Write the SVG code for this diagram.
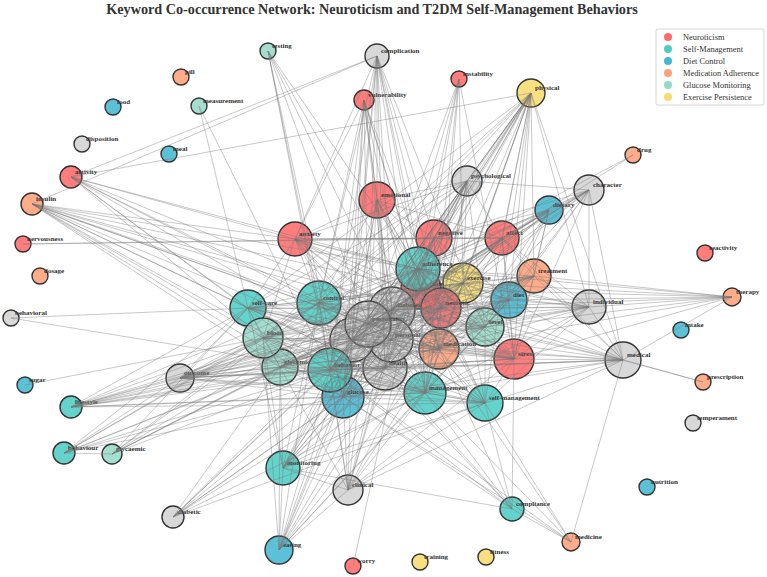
<svg xmlns="http://www.w3.org/2000/svg" width="767" height="577" viewBox="0 0 767 577">
<style>
.nd circle{stroke:#333;stroke-width:1.4;fill-opacity:.88}
.nd text{font-family:"Liberation Serif",serif;font-weight:bold;font-size:7px;fill:#333}
.r{fill:#FF6B6B}.t{fill:#4ECDC4}.b{fill:#45B7D1}.o{fill:#FFA07A}.g{fill:#98D8C8}.y{fill:#F7DC6F}.x{fill:#D3D3D3}
#edges path{fill:none;stroke:#777;stroke-opacity:.5;stroke-width:.8}
.lg text{font-family:"Liberation Serif",serif;font-size:8.4px;fill:#333}
</style>
<rect width="767" height="577" fill="#fff"/>
<text x="372" y="14" text-anchor="middle" style="font-family:'Liberation Serif',serif;font-weight:bold;font-size:14.2px;fill:#333">Keyword Co-occurrence Network: Neuroticism and T2DM Self-Management Behaviors</text>
<g id="nodes">
<g id="n-pill" class="nd"><circle class="o" cx="181" cy="77" r="8"/><text x="185" y="74">pill</text></g>
<g id="n-food" class="nd"><circle class="b" cx="113" cy="107" r="8"/><text x="117" y="104">food</text></g>
<g id="n-measurement" class="nd"><circle class="g" cx="199" cy="106" r="8"/><text x="203" y="103">measurement</text></g>
<g id="n-disposition" class="nd"><circle class="x" cx="82" cy="144" r="8"/><text x="86" y="141">disposition</text></g>
<g id="n-meal" class="nd"><circle class="b" cx="169" cy="154" r="8"/><text x="173" y="151">meal</text></g>
<g id="n-activity" class="nd"><circle class="r" cx="71" cy="177" r="11"/><text x="75" y="174">activity</text></g>
<g id="n-insulin" class="nd"><circle class="o" cx="32" cy="204" r="11"/><text x="36" y="201">insulin</text></g>
<g id="n-nervousness" class="nd"><circle class="r" cx="23" cy="244" r="8"/><text x="27" y="241">nervousness</text></g>
<g id="n-dosage" class="nd"><circle class="o" cx="40" cy="276" r="8"/><text x="44" y="273">dosage</text></g>
<g id="n-behavioral" class="nd"><circle class="x" cx="11" cy="318" r="8"/><text x="15" y="315">behavioral</text></g>
<g id="n-sugar" class="nd"><circle class="b" cx="25" cy="385" r="8"/><text x="29" y="382">sugar</text></g>
<g id="n-lifestyle" class="nd"><circle class="t" cx="71" cy="407" r="11"/><text x="75" y="404">lifestyle</text></g>
<g id="n-behaviour" class="nd"><circle class="t" cx="64" cy="453" r="11"/><text x="68" y="450">behaviour</text></g>
<g id="n-glycaemic" class="nd"><circle class="g" cx="112" cy="454" r="10"/><text x="116" y="451">glycaemic</text></g>
<g id="n-diabetic" class="nd"><circle class="x" cx="173" cy="517" r="11"/><text x="177" y="514">diabetic</text></g>
<g id="n-outcome" class="nd"><circle class="x" cx="180" cy="378" r="14"/><text x="184" y="375">outcome</text></g>
<g id="n-testing" class="nd"><circle class="g" cx="268" cy="51" r="8"/><text x="272" y="48">testing</text></g>
<g id="n-complication" class="nd"><circle class="x" cx="377" cy="56" r="12"/><text x="381" y="53">complication</text></g>
<g id="n-instability" class="nd"><circle class="r" cx="459" cy="79" r="8"/><text x="463" y="76">instability</text></g>
<g id="n-vulnerability" class="nd"><circle class="r" cx="364" cy="100" r="10"/><text x="368" y="97">vulnerability</text></g>
<g id="n-physical" class="nd"><circle class="y" cx="531" cy="93" r="14"/><text x="535" y="90">physical</text></g>
<g id="n-drug" class="nd"><circle class="o" cx="633" cy="155" r="8"/><text x="637" y="152">drug</text></g>
<g id="n-psychological" class="nd"><circle class="x" cx="467" cy="181" r="15"/><text x="471" y="178">psychological</text></g>
<g id="n-character" class="nd"><circle class="x" cx="589" cy="190" r="15"/><text x="593" y="187">character</text></g>
<g id="n-dietary" class="nd"><circle class="b" cx="549" cy="210" r="14"/><text x="553" y="207">dietary</text></g>
<g id="n-reactivity" class="nd"><circle class="r" cx="705" cy="253" r="8"/><text x="709" y="250">reactivity</text></g>
<g id="n-therapy" class="nd"><circle class="o" cx="732" cy="297" r="9"/><text x="736" y="294">therapy</text></g>
<g id="n-intake" class="nd"><circle class="b" cx="681" cy="330" r="8"/><text x="685" y="327">intake</text></g>
<g id="n-prescription" class="nd"><circle class="o" cx="703" cy="382" r="8"/><text x="707" y="379">prescription</text></g>
<g id="n-temperament" class="nd"><circle class="x" cx="693" cy="423" r="8"/><text x="697" y="420">temperament</text></g>
<g id="n-nutrition" class="nd"><circle class="b" cx="647" cy="487" r="8"/><text x="651" y="484">nutrition</text></g>
<g id="n-compliance" class="nd"><circle class="t" cx="512" cy="509" r="12"/><text x="516" y="506">compliance</text></g>
<g id="n-medicine" class="nd"><circle class="o" cx="571" cy="542" r="9"/><text x="575" y="539">medicine</text></g>
<g id="n-fitness" class="nd"><circle class="y" cx="486" cy="557" r="8"/><text x="490" y="554">fitness</text></g>
<g id="n-training" class="nd"><circle class="y" cx="420" cy="562" r="8"/><text x="424" y="559">training</text></g>
<g id="n-worry" class="nd"><circle class="r" cx="353" cy="566" r="8"/><text x="357" y="563">worry</text></g>
<g id="n-eating" class="nd"><circle class="b" cx="279" cy="550" r="14"/><text x="283" y="547">eating</text></g>
<g id="n-clinical" class="nd"><circle class="x" cx="348" cy="490" r="15"/><text x="352" y="487">clinical</text></g>
<g id="n-monitoring" class="nd"><circle class="t" cx="283" cy="468" r="17"/><text x="287" y="465">monitoring</text></g>
<g id="n-medical" class="nd"><circle class="x" cx="623" cy="360" r="18"/><text x="627" y="357">medical</text></g>
<g id="n-individual" class="nd"><circle class="x" cx="589" cy="307" r="17"/><text x="593" y="304">individual</text></g>
<g id="n-emotional" class="nd"><circle class="r" cx="377" cy="200" r="18"/><text x="381" y="197">emotional</text></g>
<g id="n-anxiety" class="nd"><circle class="r" cx="295" cy="239" r="17"/><text x="299" y="236">anxiety</text></g>
<g id="n-negative" class="nd"><circle class="r" cx="434" cy="238" r="18"/><text x="438" y="235">negative</text></g>
<g id="n-affect" class="nd"><circle class="r" cx="502" cy="238" r="17"/><text x="506" y="235">affect</text></g>
<g id="n-neuroticism" class="nd"><circle class="r" cx="421" cy="289" r="20"/><text x="409" y="286">neuroticism</text></g>
<g id="n-diabetes" class="nd"><circle class="x" cx="392" cy="310" r="23"/><text x="396" y="307">diabetes</text></g>
<g id="n-health" class="nd"><circle class="x" cx="385" cy="368" r="22"/><text x="389" y="365">health</text></g>
<g id="n-personal" class="nd"><circle class="x" cx="391" cy="340" r="22"/><text x="395" y="337">personal</text></g>
<g id="n-trait" class="nd"><circle class="x" cx="352" cy="340" r="22"/><text x="356" y="337">trait</text></g>
<g id="n-personality" class="nd"><circle class="x" cx="368" cy="324" r="23"/><text x="372" y="321">personality</text></g>
<g id="n-glucose" class="nd"><circle class="b" cx="343" cy="397" r="21"/><text x="347" y="394">glucose</text></g>
<g id="n-glycemic" class="nd"><circle class="g" cx="280" cy="367" r="18"/><text x="284" y="364">glycemic</text></g>
<g id="n-self-care" class="nd"><circle class="t" cx="248" cy="308" r="18"/><text x="252" y="305">self-care</text></g>
<g id="n-blood" class="nd"><circle class="g" cx="263" cy="338" r="20"/><text x="267" y="335">blood</text></g>
<g id="n-behavior" class="nd"><circle class="t" cx="330" cy="370" r="22"/><text x="334" y="367">behavior</text></g>
<g id="n-control" class="nd"><circle class="t" cx="319" cy="303" r="22"/><text x="323" y="300">control</text></g>
<g id="n-management" class="nd"><circle class="t" cx="425" cy="393" r="21"/><text x="429" y="390">management</text></g>
<g id="n-self-management" class="nd"><circle class="t" cx="485" cy="403" r="18"/><text x="489" y="400">self-management</text></g>
<g id="n-stress" class="nd"><circle class="r" cx="514" cy="359" r="20"/><text x="518" y="356">stress</text></g>
<g id="n-medication" class="nd"><circle class="o" cx="439" cy="349" r="20"/><text x="443" y="346">medication</text></g>
<g id="n-level" class="nd"><circle class="g" cx="485" cy="327" r="19"/><text x="489" y="324">level</text></g>
<g id="n-adherence" class="nd"><circle class="t" cx="418" cy="269" r="22"/><text x="422" y="266">adherence</text></g>
<g id="n-exercise" class="nd"><circle class="y" cx="463" cy="283" r="20"/><text x="467" y="280">exercise</text></g>
<g id="n-neurotic" class="nd"><circle class="r" cx="441" cy="308" r="20"/><text x="445" y="305">neurotic</text></g>
<g id="n-treatment" class="nd"><circle class="o" cx="534" cy="276" r="17"/><text x="538" y="273">treatment</text></g>
<g id="n-diet" class="nd"><circle class="b" cx="509" cy="300" r="18"/><text x="513" y="297">diet</text></g>
</g>
<g id="edges">
<path d="M392 310L368 324M392 310L352 340M392 310L391 340M392 310L385 368M392 310L421 289M392 310L441 308M392 310L418 269M392 310L463 283M392 310L439 349M368 324L352 340M368 324L391 340M368 324L385 368M368 324L421 289M368 324L441 308M368 324L418 269M368 324L463 283M368 324L439 349M352 340L391 340M352 340L385 368M352 340L421 289M352 340L441 308M352 340L418 269M352 340L463 283M352 340L439 349M391 340L385 368M391 340L421 289M391 340L441 308M391 340L418 269M391 340L463 283M391 340L439 349M385 368L421 289M385 368L441 308M385 368L418 269M385 368L463 283M385 368L439 349M421 289L441 308M421 289L418 269M421 289L463 283M421 289L439 349M441 308L418 269M441 308L463 283M441 308L439 349M418 269L463 283M418 269L439 349M463 283L439 349"/>
<path d="M319 303L392 310M319 303L368 324M319 303L352 340M319 303L391 340M319 303L385 368M319 303L421 289M319 303L441 308M319 303L418 269M319 303L463 283M319 303L439 349"/>
<path d="M485 327L392 310M485 327L368 324M485 327L352 340M485 327L391 340M485 327L385 368M485 327L421 289M485 327L441 308M485 327L418 269M485 327L463 283M485 327L439 349"/>
<path d="M263 338L392 310M263 338L368 324M263 338L352 340M263 338L391 340M263 338L385 368M263 338L421 289M263 338L441 308M263 338L418 269M263 338L463 283M263 338L439 349"/>
<path d="M280 367L392 310M280 367L368 324M280 367L352 340M280 367L391 340M280 367L385 368M280 367L421 289M280 367L441 308M280 367L418 269M280 367L463 283M280 367L439 349"/>
<path d="M330 370L392 310M330 370L368 324M330 370L352 340M330 370L391 340M330 370L385 368M330 370L421 289M330 370L441 308M330 370L418 269M330 370L463 283M330 370L439 349"/>
<path d="M343 397L392 310M343 397L368 324M343 397L352 340M343 397L391 340M343 397L385 368M343 397L421 289M343 397L441 308M343 397L418 269M343 397L463 283M343 397L439 349"/>
<path d="M425 393L392 310M425 393L368 324M425 393L352 340M425 393L391 340M425 393L385 368M425 393L421 289M425 393L441 308M425 393L418 269M425 393L463 283M425 393L439 349"/>
<path d="M485 403L392 310M485 403L368 324M485 403L352 340M485 403L391 340M485 403L385 368M485 403L421 289M485 403L441 308M485 403L418 269M485 403L463 283M485 403L439 349"/>
<path d="M509 300L392 310M509 300L368 324M509 300L352 340M509 300L391 340M509 300L385 368M509 300L421 289M509 300L441 308M509 300L418 269M509 300L463 283M509 300L439 349"/>
<path d="M534 276L392 310M534 276L368 324M534 276L352 340M534 276L391 340M534 276L385 368M534 276L421 289M534 276L441 308M534 276L418 269M534 276L463 283M534 276L439 349"/>
<path d="M514 359L392 310M514 359L368 324M514 359L352 340M514 359L391 340M514 359L385 368M514 359L421 289M514 359L441 308M514 359L418 269M514 359L463 283M514 359L439 349"/>
<path d="M248 308L392 310M248 308L368 324M248 308L352 340M248 308L391 340M248 308L385 368M248 308L421 289M248 308L441 308M248 308L418 269M248 308L463 283M248 308L439 349"/>
<path d="M295 239L392 310M295 239L368 324M295 239L352 340M295 239L391 340M295 239L385 368M295 239L421 289M295 239L441 308M295 239L418 269M295 239L463 283M295 239L439 349"/>
<path d="M434 238L392 310M434 238L368 324M434 238L352 340M434 238L391 340M434 238L385 368M434 238L421 289M434 238L441 308M434 238L418 269M434 238L463 283M434 238L439 349"/>
<path d="M502 238L392 310M502 238L368 324M502 238L352 340M502 238L391 340M502 238L385 368M502 238L421 289M502 238L441 308M502 238L418 269M502 238L463 283M502 238L439 349"/>
<path d="M377 200L392 310M377 200L368 324M377 200L352 340M377 200L391 340M377 200L385 368M377 200L421 289M377 200L441 308M377 200L418 269M377 200L463 283M377 200L439 349"/>
<path d="M319 303L248 308M319 303L263 338M319 303L280 367M319 303L330 370M319 303L343 397M319 303L295 239M319 303L377 200M319 303L425 393M319 303L485 327M319 303L514 359M263 338L248 308M263 338L280 367M263 338L330 370M263 338L343 397M263 338L295 239M263 338L425 393M280 367L330 370M280 367L343 397M280 367L248 308M330 370L343 397M330 370L425 393M330 370L485 403M330 370L514 359M330 370L485 327M343 397L425 393M343 397L485 403M425 393L485 403M425 393L514 359M425 393L485 327M425 393L509 300M485 403L514 359M485 403L485 327M509 300L534 276M509 300L514 359M509 300L485 327M509 300L502 238M509 300L434 238M534 276L502 238M534 276L514 359M534 276L485 327M514 359L485 327M514 359L502 238M295 239L377 200M295 239L434 238M295 239L248 308M434 238L502 238M434 238L377 200M502 238L377 200M377 200L330 370M377 200L343 397M295 239L502 238M295 239L514 359M248 308L514 359M248 308L425 393M263 338L514 359M280 367L425 393M280 367L485 403"/>
<path d="M467 181L418 269M467 181L421 289M467 181L463 283M467 181L441 308M467 181L392 310M467 181L368 324M467 181L352 340M467 181L391 340M467 181L385 368M467 181L439 349M467 181L330 370M467 181L319 303M467 181L343 397M467 181L425 393M467 181L263 338M467 181L248 308M467 181L485 327M467 181L434 238M467 181L502 238M467 181L295 239M467 181L377 200M467 181L531 93M467 181L589 190"/>
<path d="M589 190L502 238M589 190L434 238M589 190L441 308M589 190L463 283M589 190L418 269M589 190L392 310M589 190L368 324M589 190L439 349M589 190L514 359M589 190L352 340M589 190L485 327M589 190L509 300M589 190L549 210M589 190L623 360"/>
<path d="M549 210L418 269M549 210L463 283M549 210L421 289M549 210L441 308M549 210L392 310M549 210L368 324M549 210L352 340M549 210L502 238M549 210L434 238M549 210L425 393M549 210L319 303M549 210L534 276M549 210L509 300M549 210L485 327M549 210L514 359M633 155L502 238M633 155L418 269"/>
<path d="M589 307L509 300M589 307L534 276M589 307L514 359M589 307L441 308M589 307L463 283M589 307L418 269M589 307L392 310M589 307L368 324M589 307L485 327M589 307L439 349M589 307L425 393M589 307L485 403M589 307L502 238M589 307L732 297M589 307L623 360M589 307L589 190M589 307L421 289M589 307L391 340M589 307L352 340"/>
<path d="M623 360L514 359M623 360L485 403M623 360L425 393M623 360L439 349M623 360L485 327M623 360L509 300M623 360L534 276M623 360L441 308M623 360L392 310M623 360L368 324M623 360L385 368M623 360L343 397M623 360L330 370M623 360L352 340M623 360L732 297M623 360L703 382M623 360L571 542M623 360L348 490M623 360L502 238M623 360L531 93M623 360L180 378M623 360L421 289"/>
<path d="M732 297L534 276M732 297L509 300M732 297L514 359M732 297L441 308M732 297L463 283M732 297L418 269M732 297L485 327M732 297L439 349M732 297L421 289"/>
<path d="M571 542L512 509M571 542L425 393M571 542L343 397M571 542L330 370M571 542L485 403M571 542L439 349M512 509L514 359M512 509L425 393M512 509L343 397M512 509L330 370M512 509L283 468M512 509L439 349M512 509L385 368M512 509L485 403M512 509L352 340"/>
<path d="M283 468L263 338M283 468L280 367M283 468L330 370M283 468L343 397M283 468L319 303M283 468L352 340M283 468L368 324M283 468L385 368M283 468L425 393M283 468L392 310M283 468L279 550M283 468L348 490M283 468L248 308M283 468L439 349M283 468L391 340M283 468L441 308M283 468L418 269M283 468L485 403"/>
<path d="M348 490L330 370M348 490L343 397M348 490L385 368M348 490L425 393M348 490L352 340M348 490L391 340M348 490L392 310M348 490L439 349M348 490L514 359M348 490L279 550M348 490L485 403M348 490L441 308M348 490L368 324M348 490L319 303M348 490L280 367"/>
<path d="M279 550L343 397M279 550L330 370M279 550L280 367M279 550L263 338M279 550L385 368M279 550L352 340M279 550L368 324M279 550L392 310M279 550L425 393M279 550L509 300M279 550L319 303M279 550L439 349M279 550L441 308"/>
<path d="M173 517L343 397M173 517L330 370M173 517L385 368M173 517L425 393M173 517L352 340M173 517L391 340M173 517L392 310M173 517L485 403M173 517L439 349M173 517L280 367"/>
<path d="M112 454L64 453M112 454L263 338M112 454L280 367M112 454L330 370M112 454L319 303M112 454L368 324M112 454L392 310M112 454L418 269M112 454L248 308"/>
<path d="M64 453L180 378M64 453L263 338M64 453L280 367M64 453L330 370M64 453L319 303M64 453L343 397M64 453L248 308M64 453L385 368M64 453L352 340"/>
<path d="M71 407L180 378M71 407L263 338M71 407L280 367M71 407L330 370M71 407L343 397M71 407L319 303M71 407L352 340M71 407L368 324M71 407L425 393M71 407L385 368M71 407L392 310M71 407L248 308M71 407L485 403M71 407L391 340M71 407L439 349"/>
<path d="M180 378L263 338M180 378L280 367M180 378L330 370M180 378L343 397M180 378L319 303M180 378L352 340M180 378L368 324M180 378L385 368M180 378L425 393M180 378L485 403M180 378L514 359M180 378L439 349M180 378L392 310M180 378L391 340M180 378L248 308M180 378L418 269M180 378L485 327M180 378L509 300M180 378L441 308M180 378L421 289"/>
<path d="M71 177L319 303M71 177L248 308M71 177L263 338M71 177L295 239M71 177L368 324M71 177L392 310M71 177L352 340M71 177L418 269M71 177L377 56M71 177L531 93M71 177L330 370"/>
<path d="M32 204L295 239M32 204L319 303M32 204L248 308M32 204L263 338M32 204L392 310M32 204L368 324M32 204L352 340M32 204L418 269M32 204L421 289M32 204L439 349M32 204L425 393M32 204L343 397M32 204L330 370M32 204L485 327M32 204L377 56M32 204L280 367"/>
<path d="M23 244L502 238M23 244L434 238M11 318L248 308M11 318L330 370M25 385L263 338M199 106L248 308M199 106L330 370M353 566L418 269M703 382L623 360"/>
<path d="M268 51L319 303M268 51L330 370M268 51L368 324M268 51L392 310M268 51L418 269M268 51L439 349M268 51L343 397"/>
<path d="M377 56L295 239M377 56L377 200M377 56L319 303M377 56L392 310M377 56L368 324M377 56L434 238M377 56L418 269M377 56L439 349M377 56L425 393M377 56L485 327M377 56L352 340M377 56L385 368M377 56L441 308M377 56L330 370M377 56L343 397"/>
<path d="M364 100L295 239M364 100L319 303M364 100L377 200M364 100L392 310M364 100L368 324M364 100L352 340M364 100L330 370M364 100L421 289M364 100L441 308M364 100L425 393M364 100L343 397M364 100L391 340M364 100L439 349"/>
<path d="M459 79L418 269M459 79L441 308M459 79L463 283M459 79L392 310M459 79L514 359M459 79L425 393M459 79L421 289M459 79L368 324"/>
<path d="M531 93L418 269M531 93L421 289M531 93L441 308M531 93L463 283M531 93L392 310M531 93L368 324M531 93L391 340M531 93L352 340M531 93L439 349M531 93L502 238M531 93L434 238M531 93L509 300M531 93L514 359M531 93L485 403M531 93L319 303M531 93L330 370M531 93L589 307M531 93L534 276M531 93L385 368M531 93L485 327M531 93L425 393M531 93L263 338M531 93L248 308M531 93L280 367M531 93L343 397"/>
</g>
<g id="legend" class="lg">
<rect x="656" y="29" width="108" height="76" rx="2" fill="#fff" fill-opacity=".9" stroke="#ccc" stroke-width=".8"/>
<circle cx="668" cy="37" r="4" fill="#FF6B6B"/><text x="683" y="40">Neuroticism</text>
<circle cx="668" cy="49" r="4" fill="#4ECDC4"/><text x="683" y="52">Self-Management</text>
<circle cx="668" cy="61" r="4" fill="#45B7D1"/><text x="683" y="64">Diet Control</text>
<circle cx="668" cy="73" r="4" fill="#FFA07A"/><text x="683" y="76">Medication Adherence</text>
<circle cx="668" cy="85" r="4" fill="#98D8C8"/><text x="683" y="88">Glucose Monitoring</text>
<circle cx="668" cy="97" r="4" fill="#F7DC6F"/><text x="683" y="100">Exercise Persistence</text>
</g>
</svg>
